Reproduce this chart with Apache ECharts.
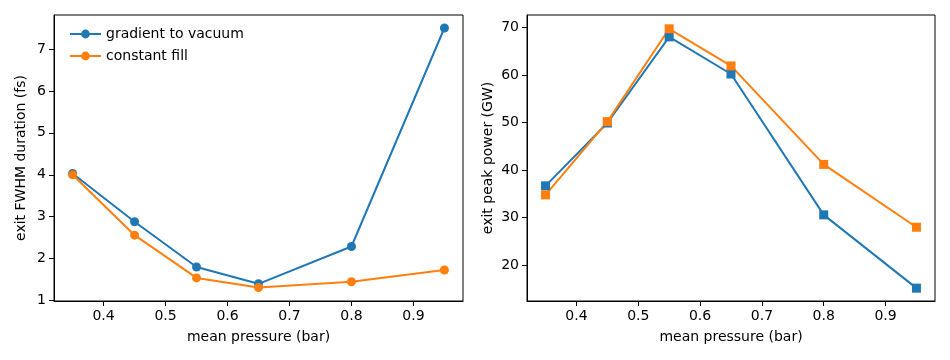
<!DOCTYPE html>
<html>
<head>
<meta charset="utf-8">
<script src="https://cdn.jsdelivr.net/npm/echarts@6/dist/echarts.min.js"></script>
<style>
  html, body { margin:0; padding:0; background:#fff; }
  #chart { width:950px; height:360px; }
</style>
</head>
<body>
<div id="chart"></div>
<script>
  // mean pressure (bar)
  const pressure = [0.35, 0.45, 0.55, 0.65, 0.8, 0.95];
  // left panel: exit FWHM duration (fs)
  const durGradient = [4.03, 2.88, 1.80, 1.40, 2.29, 7.50];
  const durConstant = [4.00, 2.56, 1.54, 1.31, 1.45, 1.73];
  // right panel: exit peak power (GW)
  const powGradient = [36.7, 49.9, 68.0, 60.2, 30.6, 15.2];
  const powConstant = [34.8, 50.2, 69.7, 61.9, 41.2, 28.0];
  // tick labels
  const xTicks = [0.4, 0.5, 0.6, 0.7, 0.8, 0.9];
  const yTicksLeft = [1, 2, 3, 4, 5, 6, 7];
  const yTicksRight = [20, 30, 40, 50, 60, 70];

  const BLUE = '#1f77b4', ORANGE = '#ff7f0e';
  const FONT = 'DejaVu Sans';
  const FS = 14;

  function pts(ys){ return pressure.map((x,i)=>[x, ys[i]]); }

  function xAxis(idx){
    return {
      type:'value', gridIndex:idx, min:0.32, max:0.98,
      name:'mean pressure (bar)', nameLocation:'middle', nameGap:29,
      nameTextStyle:{ color:'#000', fontSize:FS, fontFamily:FONT },
      axisLine:{ lineStyle:{ color:'#000', width:1 } },
      axisTick:{ show:true, length:5, customValues:xTicks, lineStyle:{ color:'#000' } },
      axisLabel:{ customValues:xTicks, color:'#000', fontSize:FS, fontFamily:FONT, margin:8,
        formatter:v=>v.toFixed(1) },
      splitLine:{ show:false }
    };
  }
  function yAxis(idx, min, max, ticks, name, gap){
    return {
      type:'value', gridIndex:idx, min:min, max:max,
      name:name, nameLocation:'middle', nameGap:gap, nameRotate:90,
      nameTextStyle:{ color:'#000', fontSize:FS, fontFamily:FONT },
      axisLine:{ show:true, lineStyle:{ color:'#000', width:1 } },
      axisTick:{ show:true, length:5, customValues:ticks, lineStyle:{ color:'#000' } },
      axisLabel:{ customValues:ticks, color:'#000', fontSize:FS, fontFamily:FONT, margin:8 },
      splitLine:{ show:false }
    };
  }
  function line(name, data, color, symbol, idx){
    return {
      type:'line', name:name, xAxisIndex:idx, yAxisIndex:idx, data:pts(data),
      symbol:symbol, symbolSize:9, showSymbol:true,
      lineStyle:{ color:color, width:2 }, itemStyle:{ color:color },
      animation:false
    };
  }

  const chart = echarts.init(document.getElementById('chart'));
  chart.setOption({
    animation:false,
    textStyle:{ fontFamily:FONT },
    grid:[
      { left:54, right:487, top:15, bottom:59, show:true, borderColor:'#000', borderWidth:1 },
      { left:527, right:15, top:15, bottom:59, show:true, borderColor:'#000', borderWidth:1 }
    ],
    legend:{
      data:['gradient to vacuum','constant fill'],
      orient:'vertical', left:64, top:22, itemGap:8, itemWidth:31, itemHeight:11,
      textStyle:{ color:'#000', fontSize:FS, fontFamily:FONT }
    },
    xAxis:[ xAxis(0), xAxis(1) ],
    yAxis:[
      yAxis(0, 0.99, 7.81, yTicksLeft, 'exit FWHM duration (fs)', 26),
      yAxis(1, 12.5, 72.6, yTicksRight, 'exit peak power (GW)', 32)
    ],
    series:[
      line('gradient to vacuum', durGradient, BLUE, 'circle', 0),
      line('constant fill', durConstant, ORANGE, 'circle', 0),
      line('gradient to vacuum', powGradient, BLUE, 'rect', 1),
      line('constant fill', powConstant, ORANGE, 'rect', 1)
    ]
  });
</script>
</body>
</html>
